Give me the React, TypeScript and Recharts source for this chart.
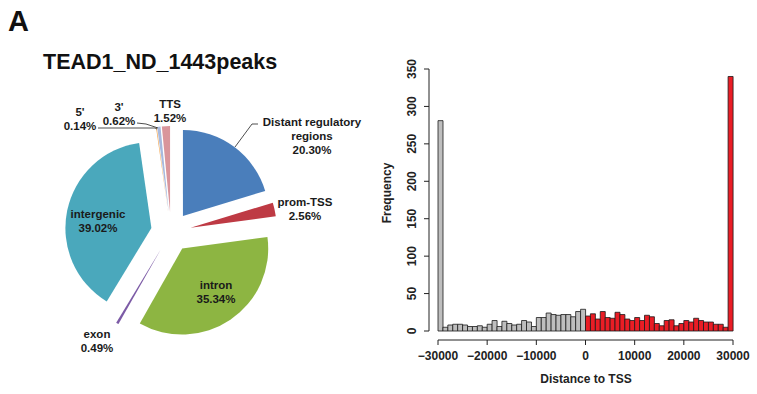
import React from 'react';
import { PieChart, Pie, Cell, BarChart, Bar, XAxis, YAxis } from 'recharts';

// pie: genomic annotation of peaks (clockwise from 12 o'clock)
const pieCategories = ['Distant regulatory regions', 'prom-TSS', 'intron', 'exon', 'intergenic', "5'", "3'", 'TTS'];
const pieShares = [20.3, 2.56, 35.34, 0.49, 39.02, 0.14, 0.62, 1.52];
const pieColors = ['#4A7EBB', '#BE3A44', '#8DB542', '#7C5BA6', '#4AA8BC', '#F3A54E', '#A7B9DE', '#D9959B'];

// histogram: distance to TSS, 1000 bp bins from -30000 to 30000
const BIN_START = -30000;
const BIN_WIDTH = 1000;
const upstreamCounts = [281, 5, 8, 9, 9, 8, 6, 6, 7, 5, 9, 14, 6, 13, 10, 8, 9, 14, 12, 6, 18, 18, 24, 22, 21, 22, 22, 19, 26, 29];
const downstreamCounts = [20, 23, 16, 26, 18, 17, 25, 22, 16, 14, 18, 14, 21, 19, 10, 7, 14, 15, 7, 10, 14, 12, 17, 14, 12, 12, 9, 9, 5, 340];
const xTicks = [-30000, -20000, -10000, 0, 10000, 20000, 30000];
const yTicks = [0, 50, 100, 150, 200, 250, 300, 350];
const X_DOMAIN = [-30000, 30000];
const Y_DOMAIN = [0, 350];

const FONT = '"Liberation Sans", Arial, sans-serif';

const pieData = pieCategories.map((name, i) => ({ name, value: pieShares[i] }));
const total = pieShares.reduce((a, b) => a + b, 0);

const histData = [...upstreamCounts, ...downstreamCounts].map((count, i) => ({
  mid: BIN_START + i * BIN_WIDTH + BIN_WIDTH / 2,
  count,
  upstream: i < upstreamCounts.length,
}));

// label layout (baseline of first line)
const labelLayout = [
  { x: 312, y: 126, lines: ['Distant regulatory', 'regions', '20.30%'] },
  { x: 305, y: 206, lines: ['prom-TSS', '2.56%'] },
  { x: 216, y: 289, lines: ['intron', '35.34%'] },
  { x: 97, y: 338, lines: ['exon', '0.49%'] },
  { x: 98, y: 218, lines: ['intergenic', '39.02%'] },
  { x: 80, y: 116, lines: ["5'", '0.14%'] },
  { x: 119, y: 111, lines: ["3'", '0.62%'] },
  { x: 170, y: 108, lines: ['TTS', '1.52%'] },
];

const CX = 171;
const CY = 232;
const R = 86;
const EXPLODE = 20;

// histogram frame: plot area 438..733 x 69..331, axes detached by 9px (R style)
const W = 377;
const H = 394;
const TOP = 69;
const RIGHT = 24;
const LEFT = 58;
const BOTTOM = 63;
const AXIS_GAP = 9;

const YTick = (props: any) => {
  const { x, y, payload } = props;
  return (
    <text x={x} y={y} transform={`rotate(-90, ${x}, ${y})`} textAnchor="middle"
      fontFamily={FONT} fontWeight="bold" fontSize={12} fill="#222">
      {payload.value}
    </text>
  );
};

const layer: React.CSSProperties = { position: 'absolute', left: 380, top: 0 };

const App: React.FC = () => {
  let cum = 0;
  const offsets = pieShares.map(v => {
    const theta = (2 * Math.PI * (cum + v / 2)) / total;
    cum += v;
    return { dx: EXPLODE * Math.sin(theta), dy: -EXPLODE * Math.cos(theta) };
  });

  return (
    <div style={{ position: 'absolute', left: 0, top: 0, width: 757, height: 394, background: '#fff', fontFamily: FONT }}>
      <div style={{ position: 'absolute', left: 0, top: 0 }}>
        <PieChart width={380} height={394} margin={{ top: 0, right: 0, bottom: 0, left: 0 }}>
          {offsets.map((o, i) => (
            <Pie
              key={i}
              data={pieData}
              dataKey="value"
              nameKey="name"
              cx={CX + o.dx}
              cy={CY + o.dy}
              outerRadius={R}
              startAngle={90}
              endAngle={-270}
              stroke="none"
              isAnimationActive={false}
            >
              {pieData.map((d, j) => (
                <Cell key={d.name} fill={j === i ? pieColors[j] : 'transparent'} />
              ))}
            </Pie>
          ))}
        </PieChart>
      </div>

      {/* bars */}
      <div style={layer}>
        <BarChart width={W} height={H} data={histData} barCategoryGap={0} barGap={0}
          margin={{ top: TOP, right: RIGHT, left: LEFT, bottom: BOTTOM }}>
          <XAxis dataKey="mid" type="number" domain={X_DOMAIN} hide />
          <YAxis domain={Y_DOMAIN} hide />
          <Bar dataKey="count" stroke="#1a1a1a" strokeWidth={0.8} isAnimationActive={false}>
            {histData.map((d, i) => (
              <Cell key={i} fill={d.upstream ? '#BEBEBE' : '#EA1D25'} />
            ))}
          </Bar>
        </BarChart>
      </div>

      {/* x axis */}
      <div style={layer}>
        <BarChart width={W} height={H} data={histData}
          margin={{ top: TOP, right: RIGHT, left: LEFT, bottom: 0 }}>
          <XAxis
            dataKey="mid"
            type="number"
            domain={X_DOMAIN}
            ticks={xTicks}
            interval={0}
            height={BOTTOM - AXIS_GAP}
            tickSize={5}
            tickMargin={6}
            stroke="#222"
            tick={{ fontFamily: FONT, fontWeight: 'bold', fontSize: 12, fill: '#222' }}
            tickFormatter={(v: number) => (v < 0 ? '\u2212' + Math.abs(v) : String(v))}
          />
          <YAxis domain={Y_DOMAIN} hide />
          <Bar dataKey="count" fill="transparent" stroke="none" isAnimationActive={false} />
        </BarChart>
      </div>

      {/* y axis */}
      <div style={layer}>
        <BarChart width={W} height={H} data={histData}
          margin={{ top: TOP, right: RIGHT + AXIS_GAP, left: 0, bottom: BOTTOM }}>
          <XAxis dataKey="mid" type="number" domain={X_DOMAIN} hide />
          <YAxis
            domain={Y_DOMAIN}
            ticks={yTicks}
            interval={0}
            width={LEFT - AXIS_GAP}
            tickSize={5}
            tickMargin={8}
            stroke="#222"
            tick={<YTick />}
          />
          <Bar dataKey="count" fill="transparent" stroke="none" isAnimationActive={false} />
        </BarChart>
      </div>

      <svg width={757} height={394} style={{ position: 'absolute', left: 0, top: 0, pointerEvents: 'none' }}>
        <text x={8} y={31} fontFamily={FONT} fontWeight="bold" fontSize={29} fill="#111">A</text>
        <text x={43} y={69} fontFamily={FONT} fontWeight="bold" fontSize={21.5} fill="#111">TEAD1_ND_1443peaks</text>

        {labelLayout.map((l, i) => (
          <text key={i} x={l.x} y={l.y} textAnchor="middle" fontFamily={FONT} fontWeight="bold" fontSize={11.5} fill="#1a1a1a">
            {l.lines.map((line, k) => (
              <tspan key={k} x={l.x} y={l.y + k * 14}>{line}</tspan>
            ))}
          </text>
        ))}

        <polyline points="258,124 252,124 235,147" fill="none" stroke="#222" strokeWidth={0.8} />
        <polyline points="98,128 155,128 157,129" fill="none" stroke="#222" strokeWidth={0.8} />
        <polyline points="137,123 146,124 158,128" fill="none" stroke="#222" strokeWidth={0.8} />

        <text x={586} y={383} textAnchor="middle" fontFamily={FONT} fontWeight="bold" fontSize={12} fill="#222">Distance to TSS</text>
        <text x={391} y={193} transform="rotate(-90, 391, 193)" textAnchor="middle" fontFamily={FONT} fontWeight="bold" fontSize={12} fill="#222">Frequency</text>
      </svg>
    </div>
  );
};

export default App;
